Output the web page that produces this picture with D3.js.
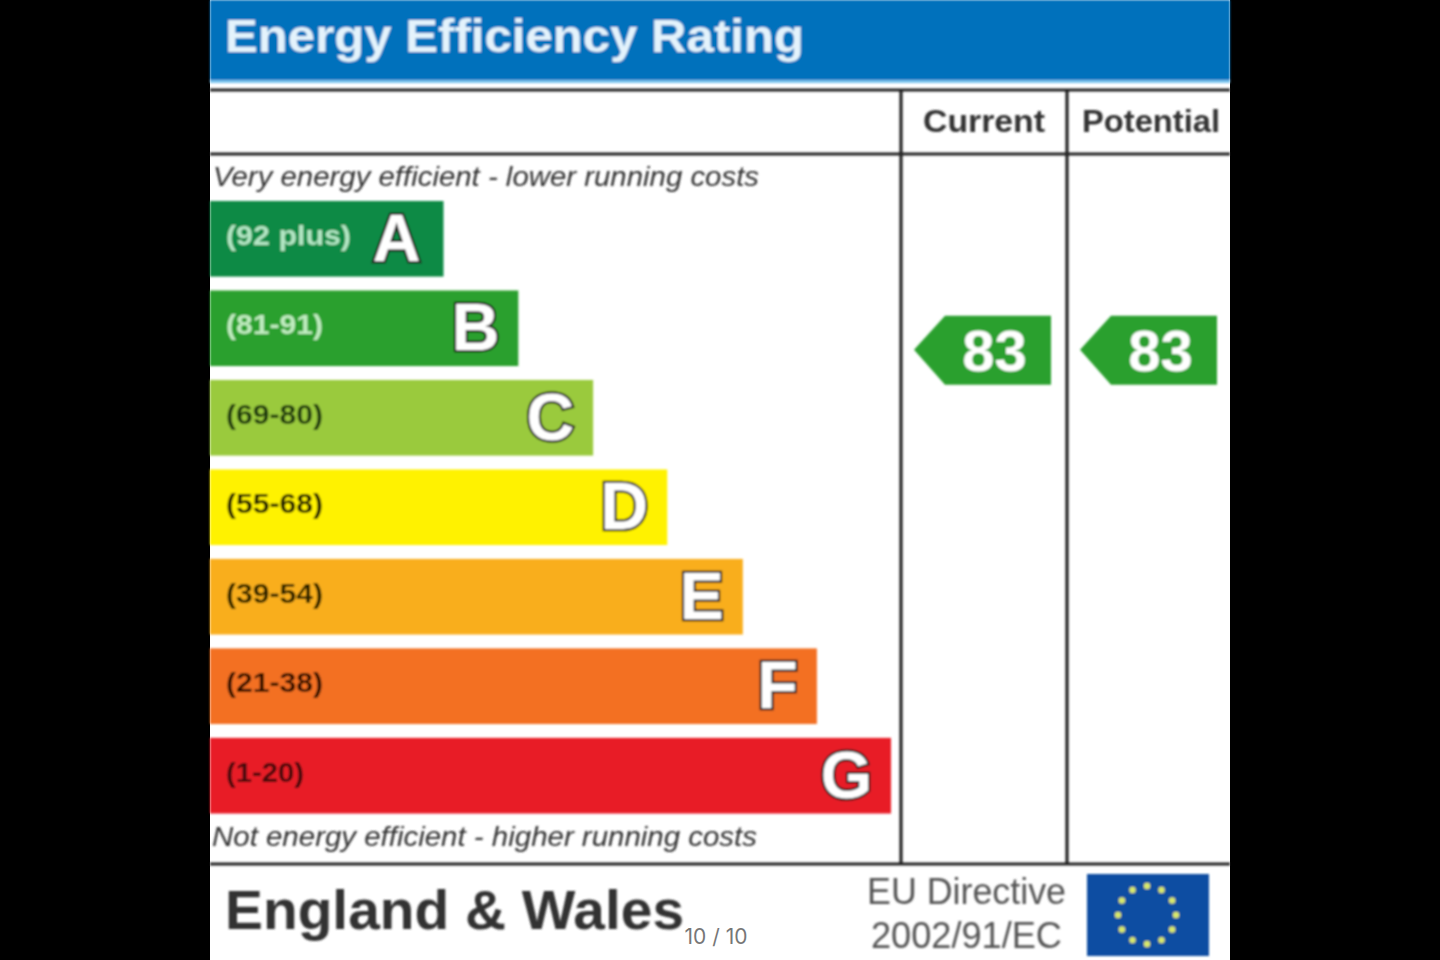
<!DOCTYPE html>
<html><head><meta charset="utf-8">
<script src="https://cdn.jsdelivr.net/npm/d3@7/dist/d3.min.js"></script>
<style>html,body{margin:0;padding:0;background:#000;overflow:hidden}svg{display:block}text{font-family:"Liberation Sans",Arial,sans-serif}</style>
</head><body><div id="c"></div>
<script>
const letters=["A","B","C","D","E","F","G"];
const ranges=["(92 plus)","(81-91)","(69-80)","(55-68)","(39-54)","(21-38)","(1-20)"];
const barLengths=[31.2,41.2,51.2,61.1,71.2,81.1,91];
const barColors=["#0c8a44","#2ba02d","#9aca3c","#fff200","#f9ae1c","#f36f24","#e81c26"];
const rangeColors=["#b4e6c4","#c0ecc0","#1e3a10","#1a1a00","#2a2000","#301000","#400808"];
const columns=["Current","Potential"];
const ratings=[83,83];
const title="Energy Efficiency Rating";
const topNote="Very energy efficient - lower running costs";
const bottomNote="Not energy efficient - higher running costs";
const region="England & Wales";
const directive=["EU Directive","2002/91/EC"];
const flagStars=d3.range(12);

const svg=d3.select("#c").append("svg").attr("width",1440).attr("height",960);
const defs=svg.append("defs");
defs.append("filter").attr("id","soft").attr("x","-5%").attr("y","-5%").attr("width","110%").attr("height","110%")
  .append("feGaussianBlur").attr("stdDeviation",0.8);
const g=svg.append("g").attr("filter","url(#soft)");
svg.insert("rect","g").attr("x",210).attr("y",0).attr("width",1020).attr("height",960).attr("fill","#fff");

g.append("rect").attr("x",210).attr("y",0).attr("width",1020).attr("height",80).attr("fill","#0071bc");
g.append("rect").attr("x",210).attr("y",80).attr("width",1020).attr("height",3).attr("fill","#7cc4ee");
g.append("text").attr("x",225).attr("y",52).attr("fill","#e4f3fc").attr("font-weight",700).attr("font-size",46.5).attr("textLength",579).attr("lengthAdjust","spacingAndGlyphs").text(title);

const hLines=[90,154,864], vLines=[901,1067];
g.selectAll(".h").data(hLines).join("line").attr("x1",210).attr("x2",1230).attr("y1",d=>d).attr("y2",d=>d).attr("stroke","#222").attr("stroke-width",3.2);
g.selectAll(".v").data(vLines).join("line").attr("x1",d=>d).attr("x2",d=>d).attr("y1",90).attr("y2",864).attr("stroke","#222").attr("stroke-width",3.2);

const x=d3.scaleLinear().domain([0,91]).range([210,891]);
const y=d3.scaleBand().domain(letters).range([201,813.5]).paddingInner(0.155);
const rows=g.selectAll(".row").data(letters).join("g");
rows.append("rect").attr("x",x(0)).attr("y",d=>y(d)).attr("height",y.bandwidth())
  .attr("width",(d,i)=>x(barLengths[i])-x(0)).attr("fill",(d,i)=>barColors[i]);
rows.append("text").attr("x",226).attr("y",d=>y(d)+y.bandwidth()/2+6).attr("fill",(d,i)=>rangeColors[i])
  .attr("font-weight",700).attr("font-size",28).attr("textLength",(d,i)=>i==0?125:(i==6?78:97)).attr("lengthAdjust","spacingAndGlyphs")
  .text((d,i)=>ranges[i]);
rows.append("text").attr("x",(d,i)=>x(barLengths[i])-(i==0?23:19)).attr("y",d=>y(d)+y.bandwidth()/2+22).attr("text-anchor","end")
  .attr("font-size",66).attr("font-weight",700).attr("fill","#fff").attr("stroke","#1c1c1c").attr("stroke-width",4.5).attr("paint-order","stroke").text(d=>d);

g.append("text").attr("x",213).attr("y",186).attr("font-size",27).attr("font-style","italic").attr("fill","#333").attr("textLength",546).attr("lengthAdjust","spacingAndGlyphs").text(topNote);
g.append("text").attr("x",212).attr("y",846).attr("font-size",27).attr("font-style","italic").attr("fill","#333").attr("textLength",545).attr("lengthAdjust","spacingAndGlyphs").text(bottomNote);

const colCenter=d3.scalePoint().domain(columns).range([984,1151]);
g.selectAll(".ch").data(columns).join("text").attr("x",d=>colCenter(d)).attr("y",132).attr("text-anchor","middle").attr("font-size",32).attr("font-weight",700).attr("fill","#333")
  .attr("textLength",(d,i)=>i==0?122:138).attr("lengthAdjust","spacingAndGlyphs").text(d=>d);

const ry=d3.scaleLinear().domain([0,100]).range([832,251]);
const tip=d3.scalePoint().domain(columns).range([914,1080]);
const arrow=g.selectAll(".ar").data(ratings).join("g").attr("transform",(d,i)=>`translate(${tip(columns[i])},${ry(d)})`);
arrow.append("path").attr("d",d3.line()([[0,0],[31,-34],[137,-34],[137,35],[31,35]])+"Z").attr("fill","#2ba02d");
arrow.append("text").attr("x",80.5).attr("y",21).attr("text-anchor","middle").attr("font-size",58).attr("font-weight",700).attr("fill","#fff").text(d=>d);

g.append("text").attr("x",225).attr("y",929).attr("font-size",56).attr("font-weight",700).attr("fill","#333").attr("textLength",459).attr("lengthAdjust","spacingAndGlyphs").text(region);
g.selectAll(".dir").data(directive).join("text").attr("x",(d,i)=>i?1062:1066).attr("y",(d,i)=>904+i*44).attr("text-anchor","end").attr("font-size",36).attr("fill","#555")
  .attr("textLength",(d,i)=>i?191:199).attr("lengthAdjust","spacingAndGlyphs").text(d=>d);

g.append("rect").attr("x",1087).attr("y",874).attr("width",122).attr("height",82).attr("fill","#0b4ea2");
const ang=d3.scaleLinear().domain([0,12]).range([0,2*Math.PI]);
g.selectAll(".st").data(flagStars).join("circle")
  .attr("cx",d=>1147+29*Math.sin(ang(d))).attr("cy",d=>915-29*Math.cos(ang(d))).attr("r",3.2).attr("fill","#d8e86a");

svg.append("text").attr("x",716).attr("y",944).attr("text-anchor","middle").attr("font-size",21).attr("fill","#777").style("font-family","Inter,'Open Sans',sans-serif").text("10 / 10");
</script></body></html>
